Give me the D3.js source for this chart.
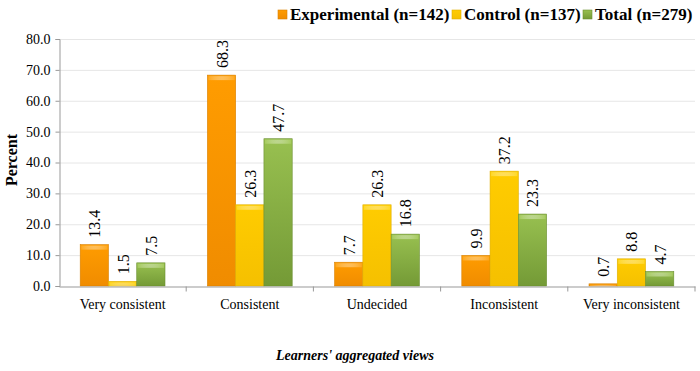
<!DOCTYPE html>
<html>
<head>
<meta charset="utf-8">
<style>
  * { margin:0; padding:0 }
  body { background:#fff; overflow:hidden; }
</style>
<script src="https://cdn.jsdelivr.net/npm/d3@7"></script>
</head>
<body>
<script>
var categories = ["Very consistent", "Consistent", "Undecided", "Inconsistent", "Very inconsistent"];
var seriesNames = ["Experimental (n=142)", "Control (n=137)", "Total (n=279)"];
var experimental = [13.4, 68.3, 7.7, 9.9, 0.7];
var control = [1.5, 26.3, 26.3, 37.2, 8.8];
var total = [7.5, 47.7, 16.8, 23.3, 4.7];
var yTicks = [0, 10, 20, 30, 40, 50, 60, 70, 80];

var series = [experimental, control, total];
var colors = [
  { top: "#ffb030", mid: "#ff9c00", bot: "#f08c00", edge: "#d98000" },
  { top: "#ffe040", mid: "#ffcc00", bot: "#f5c000", edge: "#e0b000" },
  { top: "#b0d468", mid: "#98c050", bot: "#749a36", edge: "#6b8f30" }
];
var serif = "'Liberation Serif', 'Times New Roman', serif";

var width = 700, height = 371;
var margin = { left: 59, right: 5, top: 39, bottom: 85 };

var svg = d3.select("body").append("svg")
  .attr("width", width)
  .attr("height", height)
  .attr("font-family", serif);

var defs = svg.append("defs");
colors.forEach(function(c, i) {
  var g = defs.append("linearGradient")
    .attr("id", "grad" + i)
    .attr("x1", 0).attr("y1", 0).attr("x2", 0).attr("y2", 1);
  g.append("stop").attr("offset", "0%").attr("stop-color", c.mid);
  g.append("stop").attr("offset", "100%").attr("stop-color", c.bot);
  var h = defs.append("linearGradient")
    .attr("id", "hl" + i)
    .attr("x1", 0).attr("y1", 0).attr("x2", 1).attr("y2", 0);
  h.append("stop").attr("offset", "0%").attr("stop-color", c.top).attr("stop-opacity", 0.6);
  h.append("stop").attr("offset", "50%").attr("stop-color", "#ffffff").attr("stop-opacity", 0.35);
  h.append("stop").attr("offset", "100%").attr("stop-color", c.top).attr("stop-opacity", 0.6);
});

var x0 = d3.scaleBand()
  .domain(categories)
  .range([margin.left, width - margin.right])
  .paddingInner(0)
  .paddingOuter(0);

var x1 = d3.scaleBand()
  .domain(d3.range(series.length))
  .range([0, x0.bandwidth()])
  .paddingOuter(0.75)
  .paddingInner(0);

var y = d3.scaleLinear()
  .domain([0, 80])
  .range([height - margin.bottom, margin.top]);

// gridlines
svg.append("g")
  .selectAll("line")
  .data(yTicks.slice(1))
  .enter().append("line")
  .attr("x1", margin.left).attr("x2", width - margin.right)
  .attr("y1", function(d) { return y(d) + 0.5; })
  .attr("y2", function(d) { return y(d) + 0.5; })
  .attr("stroke", "#e6e6e6");

// y axis
var yAxis = svg.append("g")
  .attr("transform", "translate(" + (margin.left + 0.5) + ",0)")
  .call(d3.axisLeft(y).tickValues(yTicks).tickSize(4).tickFormat(d3.format(".1f")));
yAxis.attr("font-family", serif).attr("font-size", 14);
yAxis.select(".domain").attr("stroke", "#999");
yAxis.selectAll(".tick line").attr("stroke", "#999");
yAxis.selectAll(".tick text")
  .attr("x", -9)
  .attr("fill", "#000");

// bars
var groups = svg.append("g").selectAll("g")
  .data(categories)
  .enter().append("g")
  .attr("transform", function(d) { return "translate(" + x0(d) + ",0)"; });

series.forEach(function(s, si) {
  groups.append("rect")
    .attr("x", x1(si))
    .attr("y", function(d, i) { return y(s[i]); })
    .attr("width", x1.bandwidth())
    .attr("height", function(d, i) { return y(0) - y(s[i]); })
    .attr("fill", "url(#grad" + si + ")")
    .attr("stroke", colors[si].edge)
    .attr("stroke-width", 0.6);
  groups.append("rect")
    .attr("x", x1(si) + 1)
    .attr("y", function(d, i) { return y(s[i]) + 1; })
    .attr("width", x1.bandwidth() - 2)
    .attr("height", function(d, i) { return Math.max(0, Math.min(4, y(0) - y(s[i]) - 1)); })
    .attr("fill", "url(#hl" + si + ")");
  groups.append("text")
    .attr("transform", function(d, i) {
      return "translate(" + (x1(si) + x1.bandwidth() / 2 + 6) + "," + (y(s[i]) - 7) + ") rotate(-90)";
    })
    .attr("text-anchor", "start")
    .attr("font-size", 16)
    .text(function(d, i) { return s[i].toFixed(1); });
});

// x axis
var xAxis = svg.append("g")
  .attr("transform", "translate(0," + (y(0) + 0.5) + ")")
  .call(d3.axisBottom(x0).tickSize(0));
xAxis.attr("font-family", serif).attr("font-size", 14);
xAxis.select(".domain").attr("stroke", "#999");
xAxis.selectAll(".tick text")
  .attr("y", 13)
  .attr("fill", "#000");
xAxis.selectAll(".sep")
  .data(categories)
  .enter().append("line")
  .attr("class", "sep")
  .attr("x1", function(d) { return x0(d) + x0.bandwidth(); })
  .attr("x2", function(d) { return x0(d) + x0.bandwidth(); })
  .attr("y1", 0).attr("y2", 5)
  .attr("stroke", "#999");

// axis titles
svg.append("text")
  .attr("transform", "translate(17,160) rotate(-90)")
  .attr("text-anchor", "middle")
  .attr("font-weight", "bold")
  .attr("font-size", 16)
  .text("Percent");

svg.append("text")
  .attr("x", 355).attr("y", 360)
  .attr("text-anchor", "middle")
  .attr("font-weight", "bold")
  .attr("font-style", "italic")
  .attr("font-size", 14)
  .text("Learners' aggregated views");

// legend
var legendX = [278, 452, 583];
var legend = svg.append("g").selectAll("g")
  .data(seriesNames)
  .enter().append("g")
  .attr("transform", function(d, i) { return "translate(" + legendX[i] + ",10)"; });
legend.append("rect")
  .attr("width", 9).attr("height", 9)
  .attr("fill", function(d, i) { return "url(#grad" + i + ")"; })
  .attr("stroke", function(d, i) { return colors[i].edge; })
  .attr("stroke-width", 0.6);
legend.append("text")
  .attr("x", 12).attr("y", 10)
  .attr("font-weight", "bold")
  .attr("font-size", 17)
  .text(function(d) { return d; });
</script>
</body>
</html>
